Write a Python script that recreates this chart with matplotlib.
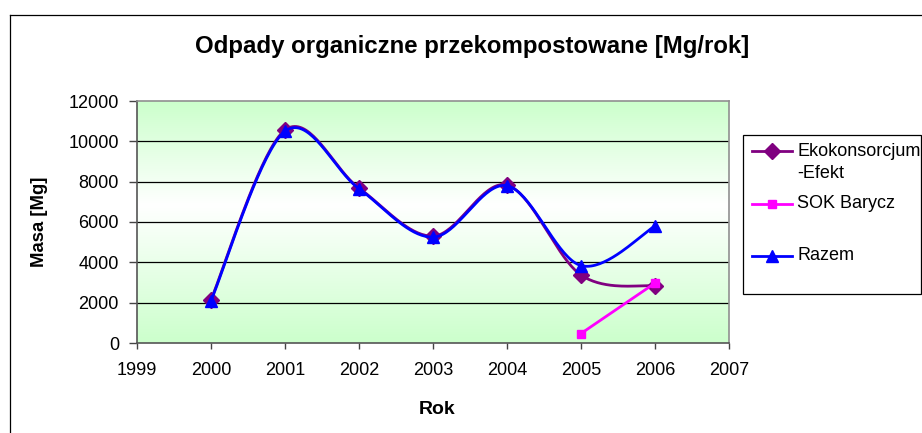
import numpy as np
import matplotlib
matplotlib.use("Agg")
import matplotlib.pyplot as plt
from matplotlib.lines import Line2D
from matplotlib.colors import LinearSegmentedColormap

plt.rcParams['font.family'] = ['Liberation Sans', 'DejaVu Sans']

years_eko = [2000, 2001, 2002, 2003, 2004, 2005, 2006]
eko = [2150, 10560, 7680, 5300, 7830, 3370, 2830]
years_sok = [2005, 2006]
sok = [470, 2970]
years_raz = [2000, 2001, 2002, 2003, 2004, 2005, 2006]
razem = [2100, 10500, 7650, 5250, 7800, 3840, 5800]

names = ["Ekokonsorcjum\n-Efekt", "SOK Barycz", "Razem"]
title = "Odpady organiczne przekompostowane [Mg/rok]"
xticks = list(range(1999, 2008))
yticks = list(range(0, 12001, 2000))


def smooth(xs, ys, n=40):
    P = np.column_stack([xs, ys]).astype(float)
    m = len(P)
    out = [P[0]]
    for i in range(m - 1):
        p0 = P[i - 1] if i > 0 else P[i]
        p1 = P[i]
        p2 = P[i + 1]
        p3 = P[i + 2] if i + 2 < m else P[i + 1]
        c1 = p1 + (p2 - p0) / 6.0
        c2 = p2 - (p3 - p1) / 6.0
        t = np.linspace(0, 1, n)[1:, None]
        seg = ((1 - t) ** 3) * p1 + 3 * ((1 - t) ** 2) * t * c1 + 3 * (1 - t) * t ** 2 * c2 + t ** 3 * p2
        out.extend(seg)
    out = np.array(out)
    return out[:, 0], out[:, 1]


W, H = 922, 433
fig = plt.figure(figsize=(W / 100, H / 100), dpi=100)
fig.patch.set_facecolor('white')

# outer chart border (top and left visible)
fig.add_artist(Line2D([10 / W, 10 / W], [0, 1 - 15 / H], transform=fig.transFigure, color='black', lw=0.9))
fig.add_artist(Line2D([10 / W, 1], [1 - 15 / H, 1 - 15 / H], transform=fig.transFigure, color='black', lw=0.9))

left, right, top, bottom = 137, 729, 101, 343
ax = fig.add_axes([left / W, 1 - bottom / H, (right - left) / W, (bottom - top) / H])

# gradient background
cmap = LinearSegmentedColormap.from_list('g', [(0.0, '#ccffcc'), (0.57, '#ffffff'), (1.0, '#ccffcc')])
grad = np.linspace(0, 1, 256)[:, None]
ax.imshow(grad, extent=[1999, 2007, 0, 12000], origin='lower', aspect='auto', cmap=cmap, zorder=0)

for yv in yticks[1:-1]:
    ax.axhline(yv, color='black', lw=0.9, zorder=1)

ax.set_xlim(1999, 2007)
ax.set_ylim(0, 12000)

sx, sy = smooth(years_eko, eko)
ax.plot(sx, sy, color='#800080', lw=2, zorder=3)
ax.plot(years_eko, eko, ls='none', marker='D', ms=8, color='#800080', zorder=4)

ax.plot(years_sok, sok, color='#ff00ff', lw=2, marker='s', ms=6, zorder=5)

sx, sy = smooth(years_raz, razem)
ax.plot(sx, sy, color='#0000ff', lw=2, zorder=6)
ax.plot(years_raz, razem, ls='none', marker='^', ms=9, color='#0000ff', zorder=7)

ax.set_xticks(xticks)
ax.set_yticks(yticks)
ax.set_xticklabels([str(v) for v in xticks], fontsize=13)
ax.set_yticklabels([str(v) for v in yticks], fontsize=13)
ax.tick_params(axis='x', direction='out', length=4.5, width=1, color='#444444', pad=9)
ax.tick_params(axis='y', direction='out', length=6, width=1, color='#444444', pad=7)
for s in ['left', 'bottom']:
    ax.spines[s].set_color('#555555')
    ax.spines[s].set_linewidth(1.2)
for s in ['top', 'right']:
    ax.spines[s].set_color('#909090')
    ax.spines[s].set_linewidth(1.2)

fig.text(472 / W, 1 - 53 / H, title, ha='center', va='baseline', fontsize=17.3, fontweight='bold')
fig.text(437 / W, 1 - 414 / H, "Rok", ha='center', va='baseline', fontsize=14, fontweight='bold')
fig.text(40 / W, 1 - 222 / H, "Masa [Mg]", ha='center', va='center', fontsize=13.3, fontweight='bold', rotation=90)

# legend box
lx0, ly0, lx1, ly1 = 743, 135, 921, 294
fig.add_artist(plt.Rectangle((lx0 / W, 1 - ly1 / H), (lx1 - lx0) / W, (ly1 - ly0) / H,
                             transform=fig.transFigure, fill=False, edgecolor='black', lw=0.9))
entries = [(names[0], '#800080', 'D', 8, 151), (names[1], '#ff00ff', 's', 6, 204),
           (names[2], '#0000ff', '^', 9, 256)]
for lab, col, mk, ms, yl in entries:
    fy = 1 - yl / H
    fig.add_artist(Line2D([752 / W, 792 / W], [fy, fy], transform=fig.transFigure, color=col, lw=2))
    fig.add_artist(Line2D([772 / W], [fy], transform=fig.transFigure, color=col, marker=mk, ms=ms, ls='none'))
    for k, part in enumerate(lab.split("\n")):
        fig.text(797 / W, 1 - (yl + 22 * k) / H, part, ha='left', va='center', fontsize=13)

fig.savefig('out.png', dpi=100)
